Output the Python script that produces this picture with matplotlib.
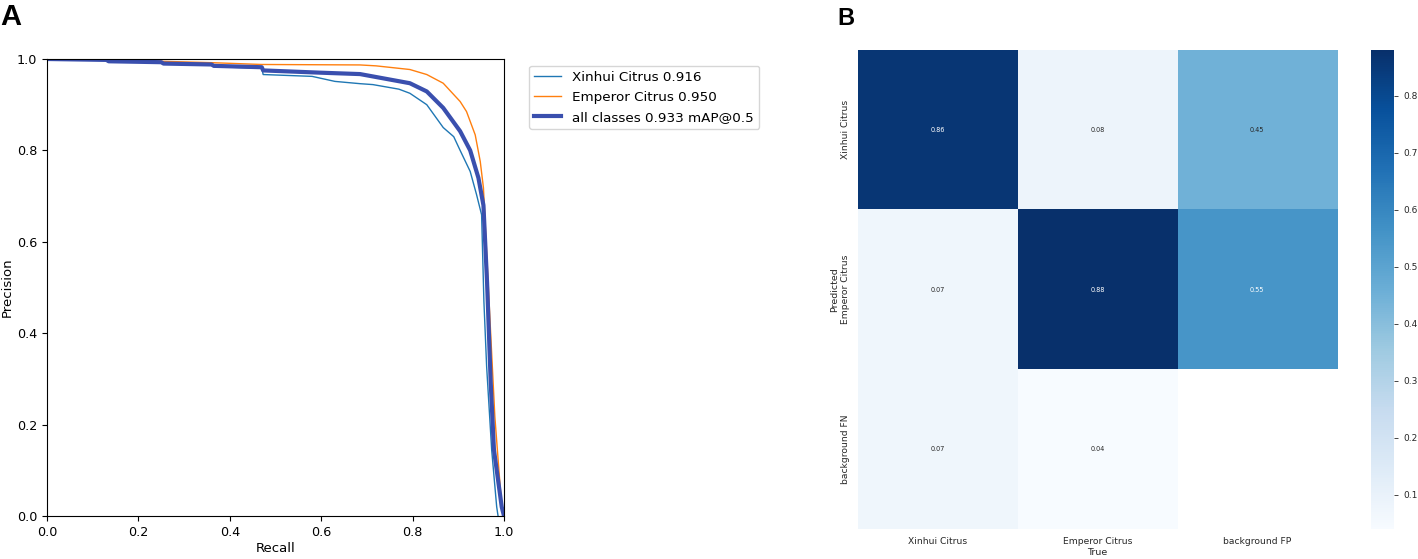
import numpy as np
import matplotlib
matplotlib.use('Agg')
import matplotlib.pyplot as plt


# ---------------------------------------------------------------------
# PR curve data
# ---------------------------------------------------------------------

xinhui_recall = [0.0, 0.13, 0.135, 0.25, 0.255, 0.36, 0.365, 0.47, 0.473, 0.58, 0.63, 0.685,
                 0.713, 0.77, 0.794, 0.831, 0.867, 0.89, 0.904, 0.926, 0.94, 0.951, 0.956,
                 0.962, 0.973, 0.984, 0.987]
xinhui_prec = [1.0, 0.998, 0.995, 0.993, 0.99, 0.987, 0.983, 0.98, 0.966, 0.962, 0.951, 0.946,
               0.944, 0.934, 0.925, 0.90, 0.85, 0.83, 0.80, 0.754, 0.703, 0.659, 0.47,
               0.327, 0.145, 0.02, 0.0]

emperor_recall = [0.0, 0.13, 0.25, 0.36, 0.47, 0.685, 0.72, 0.794, 0.831, 0.867, 0.904, 0.918,
                  0.937, 0.948, 0.955, 0.969, 0.98, 0.995, 1.0]
emperor_prec = [1.0, 0.998, 0.995, 0.992, 0.988, 0.987, 0.985, 0.977, 0.966, 0.947, 0.907, 0.885,
                0.834, 0.776, 0.718, 0.436, 0.217, 0.02, 0.0]

all_recall = [0.0, 0.13, 0.135, 0.25, 0.255, 0.36, 0.365, 0.47, 0.473, 0.6, 0.685, 0.794, 0.831,
              0.867, 0.904, 0.926, 0.944, 0.955, 0.963, 0.971, 0.978, 0.995, 1.0]
all_prec = [1.0, 0.998, 0.995, 0.993, 0.99, 0.988, 0.985, 0.982, 0.975, 0.97, 0.967, 0.947, 0.929,
            0.893, 0.842, 0.80, 0.74, 0.68, 0.51, 0.29, 0.145, 0.02, 0.0]

labels_pr = ['Xinhui Citrus 0.916', 'Emperor Citrus 0.950', 'all classes 0.933 mAP@0.5']

# ---------------------------------------------------------------------
# Confusion matrix data
# ---------------------------------------------------------------------

cm_cols = ['Xinhui Citrus', 'Emperor Citrus', 'background FP']
cm_rows = ['Xinhui Citrus', 'Emperor Citrus', 'background FN']
cm_values = [[0.86, 0.08, 0.45],
             [0.07, 0.88, 0.55],
             [0.07, 0.04, np.nan]]


W, H = 1418, 559
fig = plt.figure(figsize=(W / 100, H / 100), dpi=100)

# ---------------------------------------------------------------------
# Panel A: PR curve
# ---------------------------------------------------------------------

ax = fig.add_axes([47 / W, 1 - 516 / H, 457 / W, 457 / H])
ax.plot(xinhui_recall, xinhui_prec, linewidth=1, color='#1f77b4', label=labels_pr[0])
ax.plot(emperor_recall, emperor_prec, linewidth=1, color='#ff7f0e', label=labels_pr[1])
ax.plot(all_recall, all_prec, linewidth=3, color='#3a4fae', label=labels_pr[2])
ax.set_xlim(0, 1)
ax.set_ylim(0, 1)
ax.set_xlabel('Recall', fontsize=9.5, labelpad=2)
ax.set_ylabel('Precision', fontsize=9.5, labelpad=2)
ax.tick_params(labelsize=9.2)
ax.legend(bbox_to_anchor=(1.04, 1), loc='upper left', fontsize=9.7)

fig.text(0 / W, 1 - 3 / H, 'A', fontsize=21, fontweight='bold',
         family='Liberation Sans', va='top', ha='left')

# ---------------------------------------------------------------------
# Panel B: confusion matrix
# ---------------------------------------------------------------------

cm = np.array(cm_values, dtype=float)
vmin, vmax = np.nanmin(cm), np.nanmax(cm)
cmap = plt.get_cmap('Blues').copy()
cmap.set_bad('white')

hx = fig.add_axes([858 / W, 1 - 529 / H, 479 / W, 479 / H])
im = hx.imshow(np.ma.masked_invalid(cm), cmap=cmap, vmin=vmin, vmax=vmax,
               aspect='auto', interpolation='nearest')
norm = plt.Normalize(vmin, vmax)
for i in range(cm.shape[0]):
    for j in range(cm.shape[1]):
        v = cm[i, j]
        if np.isnan(v):
            continue
        rgba = cmap(norm(v))
        lum = 0.2126 * rgba[0] + 0.7152 * rgba[1] + 0.0722 * rgba[2]
        hx.text(j, i, f'{v:.2f}', ha='center', va='center', fontsize=4.7,
                color='white' if lum < 0.6 else '#262626')

hx.set_xticks(range(len(cm_cols)))
hx.set_xticklabels(cm_cols, fontsize=6.6, color='#262626')
hx.set_yticks(range(len(cm_rows)))
hx.set_yticklabels(cm_rows, fontsize=6.6, color='#262626', rotation=90, va='center')
hx.tick_params(length=0, pad=6)
hx.set_xlabel('True', fontsize=6.8, color='#262626', labelpad=1)
hx.set_ylabel('Predicted', fontsize=6.8, color='#262626', labelpad=1)
for s in hx.spines.values():
    s.set_visible(False)

cax = fig.add_axes([1371 / W, 1 - 529 / H, 23 / W, 479 / H])
cb = fig.colorbar(im, cax=cax)
cb.outline.set_visible(False)
cb.set_ticks([0.1, 0.2, 0.3, 0.4, 0.5, 0.6, 0.7, 0.8])
cb.ax.tick_params(labelsize=6.5, labelcolor='#262626', color='#262626', length=3, width=0.6)

fig.text(837 / W, 1 - 7 / H, 'B', fontsize=17, fontweight='bold',
         family='Liberation Sans', va='top', ha='left')

plt.savefig('out.png', dpi=100)
